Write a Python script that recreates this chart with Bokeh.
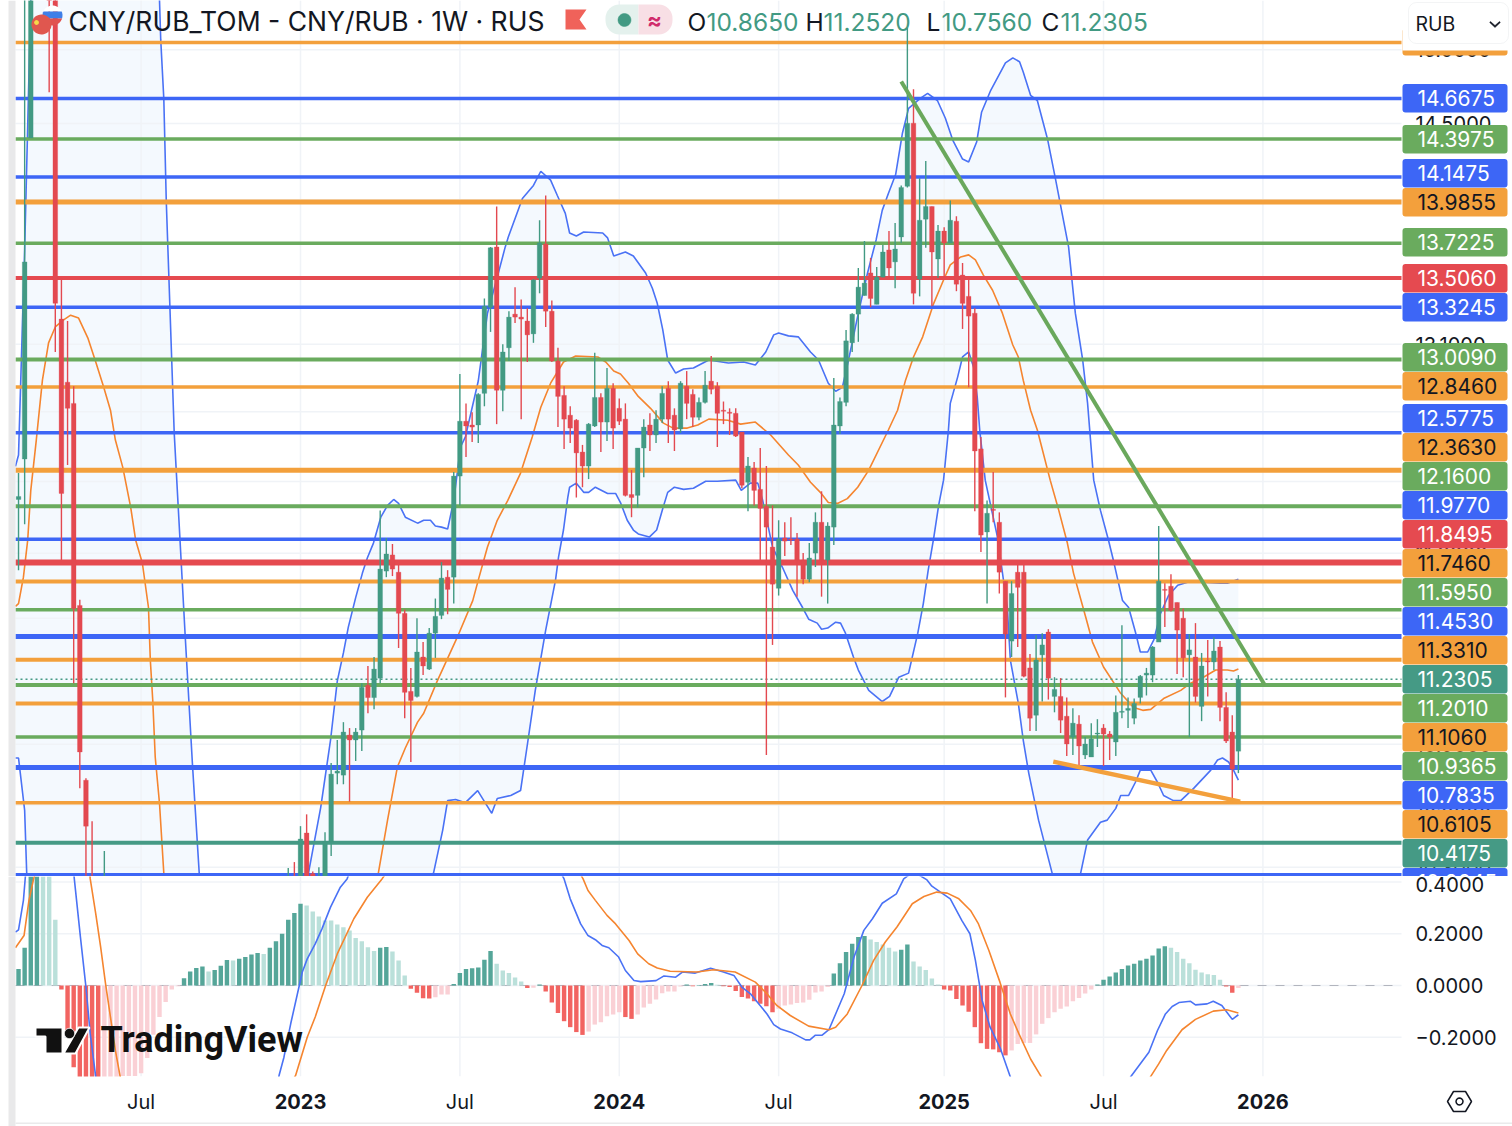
import math
import numpy as np
from bokeh.plotting import figure
from bokeh.layouts import column
from bokeh.models import (Range1d, FixedTicker, NumeralTickFormatter, BoxAnnotation, Label,
                          PolyAnnotation)
from bokeh.embed import file_html
from bokeh.resources import INLINE

# ---------- data: weeks are counted from the first week of 2023 ----------
W = [-46,-45,-44,-41,-40,-39,-38,-37,-36,-35,-34,-32,-2,-1] + list(range(0,154))
O = [12.198,12.427,14.404,19.0,17.0,13.253,12.874,12.749,11.618,10.721,10.0,9.7,9.9,10.15,
 9.95,10.464,10.27,10.2,10.23,10.421,10.756,10.746,10.946,10.921,10.971,11.199,11.136,11.236,11.803,11.891,
 11.797,11.576,11.168,11.142,11.346,11.283,11.471,11.565,11.770,11.770,12.330,12.645,12.623,12.623,12.808,13.325,
 13.700,12.826,13.079,13.283,13.265,13.241,13.163,13.505,13.719,13.301,13.000,12.796,12.680,12.651,12.467,12.387,
 12.617,12.784,12.640,12.838,12.720,12.657,12.226,12.221,12.490,12.623,12.565,12.657,12.838,12.680,12.600,12.850,
 12.802,12.668,12.755,12.880,12.850,12.709,12.697,12.691,12.582,12.295,12.376,12.255,12.159,11.934,11.710,11.984,
 11.978,11.978,11.863,11.759,11.901,12.071,11.863,12.044,12.617,12.755,13.109,13.283,13.397,13.537,13.343,13.511,
 13.681,13.606,13.763,14.087,14.502,13.499,13.876,13.957,13.624,13.800,13.725,13.863,13.524,13.392,13.289,12.485,
 12.017,12.143,12.071,11.748,11.429,11.797,11.797,11.289,11.046,11.357,11.477,11.142,11.142,11.041,10.936,11.001,
 10.846,10.836,10.951,10.981,10.951,10.911,11.061,11.071,11.031,11.137,11.252,11.252,11.424,11.704,11.721,11.634,
 11.550,11.357,11.346,11.091,11.325,11.320,11.398,11.086,10.961,10.865]
H = [12.347,16.0,17.5,19.5,17.5,13.505,13.241,12.850,11.649,10.731,10.521,10.378,10.297,10.325,
 10.497,10.554,10.28,10.301,10.468,10.806,10.921,11.011,10.981,10.981,11.210,11.299,11.346,12.137,11.984,11.951,
 11.836,11.597,11.289,11.550,11.424,11.498,11.655,11.852,11.808,12.353,12.922,12.749,12.697,12.808,13.379,13.700,
 13.957,13.101,13.301,13.449,13.373,13.319,13.499,13.869,14.028,13.367,13.079,12.850,12.732,12.657,12.508,12.634,
 13.049,12.808,12.958,12.868,12.778,12.749,12.364,12.490,12.657,12.691,12.709,12.850,12.880,12.720,12.880,12.940,
 12.832,12.784,12.940,13.030,12.874,12.760,12.720,12.720,12.582,12.439,12.410,12.490,12.387,12.165,12.082,12.071,
 12.099,12.011,11.901,11.956,12.126,12.244,12.071,12.898,12.784,13.187,13.289,13.568,13.738,13.631,13.574,13.712,
 13.800,13.851,14.093,15.151,14.730,14.140,14.252,13.957,13.838,13.825,13.995,13.895,13.599,13.505,13.319,12.554,
 12.192,12.353,12.126,11.748,11.748,11.836,11.836,11.362,11.461,11.471,11.492,11.241,11.236,11.137,11.081,11.046,
 10.936,11.006,11.026,11.001,10.966,11.147,11.513,11.137,11.131,11.252,11.289,11.403,12.050,11.737,11.786,11.634,
 11.602,11.466,11.524,11.367,11.435,11.450,11.430,11.163,11.046,11.252]
L = [11.808,12.060,14.404,14.709,13.054,11.863,12.393,11.210,10.681,9.9,9.4,9.6,9.8,9.9,
 9.9,9.95,10.15,10.15,10.2,10.354,10.701,10.701,10.616,10.816,10.866,11.056,11.076,11.210,11.770,11.776,
 11.393,11.031,10.811,11.136,11.252,11.278,11.341,11.545,11.571,11.628,12.165,12.439,12.525,12.519,12.732,13.175,
 12.628,12.703,13.000,13.229,12.657,12.994,13.109,13.411,13.205,12.994,12.611,12.485,12.519,12.209,12.267,12.313,
 12.611,12.467,12.531,12.485,12.623,12.215,12.099,12.154,12.324,12.473,12.519,12.634,12.519,12.473,12.577,12.657,
 12.611,12.651,12.749,12.802,12.496,12.628,12.565,12.554,12.261,12.132,12.165,11.863,10.846,11.409,11.671,11.885,
 11.945,11.665,11.732,11.743,11.825,11.665,11.628,11.945,12.571,12.732,13.054,13.115,13.397,13.325,13.343,13.511,
 13.511,13.442,13.725,14.080,13.343,13.392,13.694,13.331,13.505,13.511,13.725,13.424,13.193,12.844,12.132,11.907,
 11.628,12.071,11.682,11.137,11.346,11.398,11.241,10.966,10.966,11.116,11.126,11.061,10.956,10.841,10.846,10.781,
 10.826,10.836,10.886,10.791,10.821,10.841,11.031,10.981,11.001,11.106,11.147,11.215,11.424,11.503,11.586,11.257,
 11.241,10.936,11.111,11.016,11.142,11.278,11.016,10.906,10.621,10.756]
C = [12.215,13.606,17.0,16.0,13.349,12.232,12.720,11.602,10.861,10.497,9.6,10.0,10.1,9.95,
 10.435,10.0,10.2,10.25,10.421,10.751,10.766,10.961,10.921,10.961,11.189,11.136,11.283,11.814,11.896,11.814,
 11.576,11.163,11.121,11.372,11.299,11.471,11.560,11.765,11.704,12.330,12.645,12.617,12.611,12.802,13.331,13.694,
 12.826,13.054,13.265,13.265,13.253,13.157,13.493,13.725,13.301,13.000,12.790,12.657,12.605,12.462,12.387,12.628,
 12.784,12.640,12.838,12.605,12.645,12.221,12.209,12.490,12.611,12.565,12.657,12.808,12.657,12.594,12.868,12.749,
 12.668,12.755,12.856,12.832,12.691,12.703,12.691,12.559,12.278,12.387,12.249,12.148,12.044,11.732,11.978,11.967,
 11.973,11.863,11.759,11.874,12.071,11.863,12.050,12.623,12.760,13.121,13.283,13.449,13.474,13.379,13.511,13.668,
 13.568,13.687,14.080,14.502,13.411,13.869,13.957,13.668,13.800,13.725,13.869,13.467,13.349,13.271,12.473,12.000,
 12.121,12.137,11.797,11.466,11.682,11.715,11.246,11.031,11.330,11.409,11.236,11.178,11.021,10.901,11.006,10.891,
 10.901,10.926,10.956,10.951,10.936,11.061,11.066,11.081,11.106,11.246,11.262,11.398,11.748,11.699,11.592,11.487,
 11.341,11.383,11.142,11.299,11.320,11.377,11.086,10.916,10.776,11.2305]

UPPER_W = [-46.5,-46,-45,-44,-43,-24,-23,-22.8,-22.3,-21.9,-20.6,-18.8,-17.6,-16.5,-16,-10,0,1.3,3.3,4.9,6,7,7.8,9,10.1,10.9,11.9,13.1,14.2,15.2,16,17.1,19.1,20.1,21.2,22,23,24,25,26.1,26.9,29,30.5,32.1,33.4,33.9,36.2,38,39.2,40.8,41.9,43.2,43.9,45,46.2,49.3,50.1,51.1,53,54.3,56.3,57.4,58.2,59.1,59.9,61.2,62.5,64.1,66.6,69.8,72.3,74.2,75.9,77.2,78,79.6,81.2,83.2,84.5,86.1,87.3,88.4,89.4,91,92.5,93.9,94.9,95.9,97.1,98.2,99.2,101.1,102.3,103.9,105.2,106.4,108,109,110.3,111.1,112.6,115,116.2,117.3,117.9,119.1,120.2,121.9,123.2,125.3,126.4,127.6,128.4,129.4,130.5,131.8,132.6,134.1,135.1,136.2,137,138.2,139.2,140.3,141.6,143.1,144.7,147.3,150.1,151.2,153]
UPPER = [12.385,12.450,13.681,15.344,16.44,15.77,15.344,15.068,14.668,13.995,12.576,11.451,10.786,10.263,10.097,9.8,9.7,10.273,10.588,10.921,11.221,11.367,11.503,11.660,11.792,11.874,11.956,12.099,12.165,12.198,12.176,12.099,12.066,12.082,12.082,12.050,12.044,12.033,12.192,12.496,12.554,12.881,13.289,13.511,13.700,13.763,14.008,14.093,14.185,14.127,14.028,13.913,13.788,13.769,13.794,13.788,13.757,13.643,13.668,13.643,13.537,13.442,13.349,13.187,13.006,12.928,12.952,12.958,13.006,12.988,12.994,12.976,13.054,13.157,13.169,13.151,13.145,13.054,13.006,12.868,12.820,12.844,13.006,13.289,13.537,13.744,13.932,14.041,14.166,14.437,14.601,14.668,14.702,14.654,14.535,14.390,14.265,14.246,14.377,14.575,14.723,14.910,14.944,14.917,14.847,14.689,14.654,14.390,14.127,13.700,13.289,13.006,12.749,12.307,12.137,11.973,11.863,11.644,11.607,11.477,11.372,11.372,11.435,11.576,11.671,11.726,11.743,11.743,11.737,11.737,11.759]
LOWER_W = [-46.5,-46,-45,-44,0,10,20,21.7,23.2,24,25.3,26.9,28.9,31.2,32.1,34.3,35.9,37,38.3,40,41.6,42.1,42.9,43.6,43.9,45,46.2,47,48.1,50.1,51.4,52.2,53.3,54.3,55.1,56.9,58.1,59.1,59.9,61,62.5,64.1,66.1,68,71,71.9,73.4,74.6,75.4,77,78.6,80.3,81.9,82.9,84.3,85,86,87.3,88.1,88.9,90.2,91,92.7,94.9,96.1,97.6,99.2,100.7,101.6,102.4,103.3,104.1,104.9,105.7,106,107.2,108,109,109.8,110.4,110.8,111.7,113.7,115.3,115.8,117.1,117.9,118.8,120.4,122.7,124,126.4,127.2,128.4,130.5,131.6,133,133.8,135.1,136.2,137,138.7,139.8,140.8,142.4,143.6,145.7,148.5,149.6,150.4,151.4,152.2,153]
LOWER = [10.831,10.831,10.573,9.7,9.3,9.6,10.1,10.273,10.478,10.621,10.626,10.611,10.670,10.559,10.631,10.646,10.670,10.896,11.173,11.487,11.754,11.880,12.028,12.209,12.267,12.290,12.238,12.238,12.267,12.232,12.232,12.181,12.082,12.028,12.006,11.989,12.028,12.148,12.238,12.267,12.255,12.261,12.301,12.301,12.307,12.249,12.290,12.290,12.192,11.934,11.825,11.699,11.607,11.545,11.524,11.492,11.498,11.529,11.524,11.471,11.346,11.278,11.173,11.116,11.142,11.241,11.262,11.471,11.628,11.808,11.984,12.165,12.307,12.594,12.749,12.904,13.024,13.054,12.964,12.784,12.594,12.307,11.989,11.607,11.330,11.106,10.921,10.756,10.526,10.263,10.144,10.144,10.263,10.430,10.516,10.526,10.583,10.646,10.646,10.711,10.771,10.771,10.711,10.646,10.621,10.621,10.681,10.771,10.821,10.831,10.811,10.771,10.721]
BASIS_W = [-46.5,-46,-45.2,-44.5,-44,-43.1,-42.1,-41.1,-40,-38.7,-37.5,-36.2,-34.7,-33.4,-32.1,-31,-30.2,-29,-27.7,-26.9,-25.8,-24.8,-24.5,-24.1,-23.7,-23,-22.3,-21.2,-10,0,11.4,12.7,14.2,15.8,17.1,19.1,20.1,22.3,25.6,28.1,29,30.5,32.1,33.8,35.9,37.8,39.2,40.8,42.9,44.9,48.5,49.8,51.1,52.2,53.5,55.1,57.1,59.2,60.8,63.1,64.8,66.6,69.7,71.8,74.2,76.7,79.6,81.2,83.2,84.8,86.1,87.6,89.2,90.9,92.7,95.9,97.4,98.7,100,101.5,103.3,104.9,106,107.7,109,110.1,111.4,112.9,114.5,116.2,117.1,117.9,119.1,120.2,122.3,123.7,125.1,126.1,128.1,129.2,131,133.8,135.9,137.4,138.7,140.8,143.6,145.2,147.3,149.3,151.2,152.2,153]
BASIS = [11.613,11.628,11.770,11.973,12.249,12.536,12.886,13.109,13.205,13.247,13.277,13.259,13.139,12.994,12.844,12.709,12.536,12.381,12.154,11.973,11.847,11.607,11.330,11.121,10.836,10.607,10.273,9.9,9.4,9.4,9.9,10.273,10.526,10.786,10.881,11.011,11.056,11.221,11.451,11.644,11.754,11.934,12.082,12.192,12.347,12.554,12.726,12.868,12.994,13.030,13.024,12.994,12.940,12.922,12.868,12.790,12.720,12.634,12.605,12.605,12.623,12.657,12.651,12.628,12.640,12.565,12.450,12.393,12.295,12.238,12.181,12.176,12.203,12.267,12.364,12.594,12.709,12.886,13.024,13.145,13.349,13.493,13.587,13.637,13.650,13.619,13.524,13.430,13.289,13.096,13.024,12.886,12.709,12.594,12.307,12.137,11.956,11.792,11.555,11.424,11.294,11.158,11.086,11.071,11.076,11.131,11.173,11.210,11.241,11.278,11.278,11.273,11.283]

HIST_START = -46
HIST = [.064,.146,.55,.75,.7,.5,.254,-.015,-.19,-.316,
 -.40,-.44,-.48,-.52,-.38,-.36,-.36,-.35,-.35,-.35,
 -.339,-.28,-.19,-.122,-.064,-.015,-.003,.028,.054,.068,
 .073,.054,.06,.076,.099,.097,.103,.11,.12,.126,
 .122,.146,.171,.2,.254,.28,.316,.309,.286,.267,
 .251,.251,.236,.225,.213,.184,.171,.148,.133,.146,
 .149,.131,.097,.039,-.013,-.028,-.049,-.05,-.045,-.035,
 -.035,.006,.048,.064,.067,.07,.1,.133,.084,.058,
 .048,.031,.015,-.01,-.009,.004,-.023,-.066,-.106,-.138,
 -.161,-.18,-.191,-.178,-.151,-.142,-.119,-.112,-.103,-.122,
 -.129,-.112,-.085,-.071,-.054,-.03,-.023,-.023,-.004,.004,
 -.003,.002,.006,.01,.003,-.003,-.006,-.021,-.044,-.05,
 -.061,-.071,-.08,-.103,-.09,-.077,-.073,-.068,-.066,-.055,
 -.027,-.023,-.006,.046,.086,.129,.161,.187,.191,.178,
 .168,.158,.146,.131,.138,.158,.093,.073,.06,.027,
 .004,-.015,-.019,-.052,-.077,-.101,-.161,-.223,-.245,-.247,
 -.258,-.27,-.251,-.226,-.222,-.222,-.189,-.148,-.126,-.103,
 -.09,-.081,-.061,-.048,-.031,-.015,.004,.022,.035,.05,
 .064,.077,.084,.097,.103,.116,.143,.152,.146,.129,
 .103,.086,.061,.05,.043,.041,.022,-.004,-.028,-.01]
MACD_W = [-46.5,-46,-45.2,-44.9,-44,-38,-36.9,-35.9,-35,-34.3,-33.4,-32,-20,-5,-3.5,-2.7,-1.6,-.5,.3,1.1,2.4,3.5,4.9,6.5,7.6,9,30,41,43,44,45.7,46.9,48.1,49.2,50.3,51.9,53,54.4,55.5,58,59.3,61.2,62.3,64.4,66.9,69,70.7,72,73.4,76.1,77.2,78.3,80.2,82.4,83.1,84,85.1,86.2,87.3,88.7,90.3,91.9,93.3,94.9,97.2,98.4,100,102.2,103,104.4,106,107.9,109.2,110.1,111.2,112.5,114.2,115.8,118,130,135.4,138.4,139.8,141.1,142.2,143.3,145.2,146,147.9,148.9,150.3,152,153]
MACD = [.206,.215,.329,.416,.7,.7,.412,.187,-.006,-.187,-.354,-.6,-.8,-.55,-.348,-.277,-.148,-.032,.052,.103,.161,.219,.303,.38,.412,.5,.7,.5,.412,.335,.238,.193,.177,.155,.146,.11,.058,.019,.015,.019,.037,.032,.052,.048,.067,.052,.039,-.006,-.032,-.11,-.151,-.168,-.183,-.21,-.21,-.192,-.192,-.171,-.11,-.032,.11,.213,.258,.318,.354,.412,.44,.408,.384,.361,.335,.251,.2,.097,-.058,-.161,-.245,-.354,-.6,-.7,-.354,-.258,-.174,-.11,-.081,-.066,-.061,-.075,-.071,-.061,-.077,-.131,-.113]
SIGNAL_W = [-46.5,-45.1,-44.3,-43.5,-40,-35,-34.3,-33.4,-32.6,-31.8,-31,-30.2,-29.4,-25,-10,-.8,1.1,2.4,4.1,6,8.7,10.9,13.3,16,30,44,46.1,46.9,48.1,50,51.4,53.6,55,56.8,58.2,60.3,64.7,67.4,70.9,74.2,76.1,77.7,79.9,82.9,86.2,87.3,89.2,91.6,93.5,95.4,97.3,99.8,101.7,103.8,105.5,107.4,109.3,110.6,112.3,114.1,115.8,117.2,119.1,120.8,125,135,138.7,140,141.3,143.8,146,148.9,151.1,153]
SIGNAL = [.146,.193,.329,.416,.7,.6,.412,.277,.148,.006,-.122,-.251,-.354,-.6,-.7,-.348,-.2,-.122,0,.122,.258,.341,.412,.5,.65,.5,.412,.367,.329,.271,.238,.174,.122,.084,.068,.055,.052,.061,.052,.013,-.032,-.077,-.116,-.157,-.171,-.161,-.11,0,.097,.168,.226,.316,.344,.361,.357,.335,.29,.238,.135,.013,-.11,-.187,-.284,-.351,-.55,-.5,-.351,-.303,-.251,-.171,-.131,-.099,-.094,-.106]

LEVELS = [15.05,14.6675,14.3975,14.1475,13.9855,13.7225,13.506,13.3245,13.009,12.846,12.5775,12.363,12.16,11.977,11.8495,11.746,11.595,11.453,11.331,11.201,11.106,10.9365,10.7835,10.6105,10.4175,10.2645]
LEVEL_KIND = ["o","b","g","b","o","g","r","b","g","o","b","o","g","b","r","o","g","b","o","g","o","g","b","o","t","b"]
LEVEL_W = [3.5,3.5,3.5,3.5,5,3.5,4,3.5,4,3.5,3.5,5,4,3.5,6,4,3.5,5,4,4,4,3.5,5,3.5,4,3.5]
TICK_PRICES = [15,14.5,14,13.5,13.1,12.7,12.3,11.9,11.55,11.2,10.9,10.6,10.3]
TICK_MACD = [0.4,0.2,0.0,-0.2]
TICK_WEEKS = [-26,0,26,52,78,105,131,157]
TICK_LABELS = ["Jul","2023","Jul","2024","Jul","2025","Jul","2026"]
PRICE_LABELS = ["14.6675","14.3975","14.1475","13.9855","13.7225","13.5060","13.3245","13.0090","12.8460","12.5775","12.3630","12.1600","11.9770","11.8495","11.7460","11.5950","11.4530","11.3310","11.2305","11.2010","11.1060","10.9365","10.7835","10.6105","10.4175","10.2645"]
PRICE_LABEL_KIND = ["b","g","b","o","g","r","b","g","o","b","o","g","b","r","o","g","b","o","t","g","o","g","b","o","t","b"]
LAST_O, LAST_H, LAST_L, LAST_C = "10.8650","11.2520","10.7560","11.2305"

# ---------- layout geometry (page pixels of the 1512x1126 picture) ----------
PX_WEEK0, PX_PER_WEEK = 300.0, 6.13
LEFT, RIGHT, SPLIT, BOTTOM, PAGE_W, PAGE_B = 15, 1402, 876, 1076, 1512, 1126
LABEL_CY = [98,139,173,202,242,278,307,357,386,418,447,476,505,534,563,592,621,650,679,708,737,766,795,824,853,882]

def week_at(px): return (px - PX_WEEK0) / PX_PER_WEEK
def price_at(py): return 14.6675 * math.exp((98 - py) / 2175.0)
def val_at(py): return (985 - py) / 258.75

COL = {"b": "#3d66f6", "g": "#6aab5e", "o": "#f3a03c", "r": "#e54a50", "t": "#459a85"}
GREEN, RED = "#429a83", "#e34950"
BAND_BLUE, BASIS_ORANGE = "#4a72f5", "#f5852f"
GRID = "#f0f3f7"
INK = "#131722"
F = "Inter"

xr = Range1d(week_at(0), week_at(PAGE_W))
x0, x1 = week_at(LEFT), week_at(RIGHT - 1)

def style_value_axis(a, ticks):
    a.fixed_location = week_at(RIGHT)
    a.ticker = FixedTicker(ticks=ticks)
    a.formatter = NumeralTickFormatter(format="0.0000")
    a.axis_line_color = None
    a.major_tick_line_color = None
    a.minor_tick_line_color = None
    a.major_label_text_font = F
    a.major_label_text_font_size = "20px"
    a.major_label_text_color = INK
    a.major_label_standoff = 7

# ---------- price pane ----------
p = figure(width=PAGE_W, height=SPLIT, x_range=xr, y_range=Range1d(price_at(SPLIT), price_at(0)),
           y_axis_type="log", y_axis_location="right", x_axis_location=None,
           output_backend="svg", toolbar_location=None,
           min_border_left=0, min_border_right=0, min_border_top=0, min_border_bottom=0)
p.outline_line_color = None
p.grid.visible = False
style_value_axis(p.yaxis[0], TICK_PRICES)

def grid_lines(fig, ys, ytop, ybot):
    fig.segment(TICK_WEEKS, [ytop] * len(TICK_WEEKS), TICK_WEEKS, [ybot] * len(TICK_WEEKS), line_color=GRID, line_width=1.5)
    fig.segment([x0] * len(ys), ys, [x1] * len(ys), ys, line_color=GRID, line_width=1.5)

band_x = list(UPPER_W) + list(LOWER_W)[::-1]
band_y = list(UPPER) + list(LOWER)[::-1]
p.patch(band_x, band_y, fill_color="#f4f9fe", line_color=None)
grid_lines(p, TICK_PRICES, price_at(0), price_at(SPLIT))
p.line(UPPER_W, UPPER, line_color=BAND_BLUE, line_width=1.6)
p.line(LOWER_W, LOWER, line_color=BAND_BLUE, line_width=1.6)
p.line(BASIS_W, BASIS, line_color=BASIS_ORANGE, line_width=1.6)

p.segment([x0] * len(LEVELS), LEVELS, [x1] * len(LEVELS), LEVELS,
          line_color=[COL[k] for k in LEVEL_KIND], line_width=LEVEL_W)
p.segment([x0], [float(LAST_C)], [x1], [float(LAST_C)], line_color=COL["t"], line_width=1.6, line_dash="2 3")

cc = [GREEN if c >= o else RED for o, c in zip(O, C)]
p.segment(W, H, W, L, line_color=cc, line_width=1.4)
p.vbar(x=W, top=[max(a, b) for a, b in zip(O, C)], bottom=[min(a, b) for a, b in zip(O, C)],
       width=0.76, fill_color=cc, line_color=cc, line_width=0.3)

# trend lines
p.line([98.0, 157.3], [14.783, 11.201], line_color="#6aa85c", line_width=4)
p.line([122.8, 153.3], [10.813, 10.616], line_color="#f3a03c", line_width=4.5)

def ann_box(fig, l, r, t, b, conv, color, line=None, radius=0):
    fig.add_layout(BoxAnnotation(left=week_at(l), right=week_at(r), top=conv(t), bottom=conv(b),
                                 fill_color=color, fill_alpha=1, line_color=line, border_radius=radius,
                                 level="annotation"))

def ann_text(fig, px, py, txt, conv, size, color=INK, style="normal", align="left", baseline="middle", font=F):
    fig.add_layout(Label(x=week_at(px), y=conv(py), text=txt, text_font=font, text_font_size=size,
                         text_color=color, text_font_style=style, text_align=align, text_baseline=baseline))

# strip at the far left
ann_box(p, 8, LEFT, 0, SPLIT, price_at, "#e9e9ea")

# price labels on the scale
ann_box(p, 1402, 1507, 28, 55, price_at, COL["o"], radius=3)
ann_box(p, 1402, 1512, 0, 50, price_at, "#ffffff")
ann_box(p, 1408, 1508, 2, 43, price_at, "#ffffff", line="#d8d9de", radius=8)
ann_text(p, 1415, 23, "RUB", price_at, "19.5px")
p.add_layout(PolyAnnotation(xs=[week_at(v) for v in (1490, 1494.5, 1499, 1499.8, 1494.5, 1489.2)],
                            ys=[price_at(v) for v in (21, 25, 21, 22, 27, 22)],
                            fill_color=INK, fill_alpha=1, line_color=INK, line_alpha=1, line_width=0.5))
last = list(zip(PRICE_LABELS, PRICE_LABEL_KIND, LABEL_CY))[-1]
ann_box(p, 1402, 1507, last[2] - 14.5, last[2] + 14.5, price_at, COL[last[1]], radius=3)
ann_text(p, 1417, last[2] - 1, last[0], price_at, "21px", "#ffffff")
for txt, kind, cy in list(zip(PRICE_LABELS, PRICE_LABEL_KIND, LABEL_CY))[:-1]:
    ann_box(p, 1402, 1507, cy - 14.5, cy + 14, price_at, COL[kind], radius=3)
    ann_text(p, 1417, cy - 1, txt, price_at, "21px", INK if kind == "o" else "#ffffff")

# legend row
theta = np.linspace(0, 2 * np.pi, 48)
def circle_poly(cx, cy, r, y_from=-1e9, y_to=1e9):
    xs = cx + r * np.cos(theta)
    ys = np.clip(cy + r * np.sin(theta), y_from, y_to)
    return [week_at(v) for v in xs], [price_at(v) for v in ys]
for yf, yt, colr in [(5, 11, "#ffffff"), (11, 18, "#3f7fe8"), (18, 25, "#e0524f")]:
    xs, ys = circle_poly(52, 15, 10, yf, yt)
    p.patch(xs, ys, fill_color=colr, line_color=None)
xs, ys = circle_poly(41, 24, 10)
p.patch(xs, ys, fill_color="#e0574f", line_color=None)
xs, ys = circle_poly(36, 22, 2.4)
p.patch(xs, ys, fill_color="#f6d94a", line_color=None)
ann_text(p, 68, 20, "CNY/RUB_TOM - CNY/RUB · 1W · RUS", price_at, "26.5px")
p.patch([week_at(v) for v in (565, 586, 579, 586, 565)], [price_at(v) for v in (9, 9, 19, 29, 29)],
        fill_color="#f0625a", line_color=None)
ann_box(p, 605, 638, 4, 34, price_at, "#e4f1ed", radius=(14, 0, 0, 14))
ann_box(p, 638, 672, 4, 34, price_at, "#f8dfe5", radius=(0, 14, 14, 0))
xs, ys = circle_poly(624, 19.5, 6.5)
p.add_layout(PolyAnnotation(xs=xs, ys=ys, fill_color=GREEN, fill_alpha=1, line_color=GREEN, line_alpha=1, line_width=0.5))
ann_text(p, 654, 19, "≈", price_at, "22px", "#d02b6b", "bold", "center")
for lab, xl, val, xv in [("O", 687, LAST_O, 706), ("H", 805, LAST_H, 823), ("L", 926, LAST_L, 941), ("C", 1041, LAST_C, 1060)]:
    ann_text(p, xl, 21, lab, price_at, "24.5px")
    ann_text(p, xv, 21, val, price_at, "24.5px", GREEN)

# ---------- MACD pane ----------
m = figure(width=PAGE_W, height=PAGE_B - SPLIT, x_range=xr, y_range=Range1d(val_at(PAGE_B), val_at(SPLIT)),
           y_axis_location="right", output_backend="svg", toolbar_location=None,
           min_border_left=0, min_border_right=0, min_border_top=0, min_border_bottom=0)
m.outline_line_color = None
m.grid.visible = False
ay = m.yaxis[0]
style_value_axis(ay, TICK_MACD)
ay.major_label_overrides = {-0.2: "−0.2000"}
ax = m.xaxis[0]
ax.fixed_location = val_at(BOTTOM)
ax.ticker = FixedTicker(ticks=TICK_WEEKS)
ax.major_label_overrides = {w: (t if t == "Jul" else " ") for w, t in zip(TICK_WEEKS, TICK_LABELS)}
ax.axis_line_color = None
ax.major_tick_line_color = None
ax.minor_tick_line_color = None
ax.major_label_text_font = F
ax.major_label_text_font_size = "20px"
ax.major_label_text_color = INK
ax.major_label_standoff = 7

grid_lines(m, TICK_MACD, val_at(SPLIT), val_at(BOTTOM))
m.segment([x0], [0], [x1], [0], line_color="#b2b5be", line_width=1.2, line_dash="9 9")
hw = list(range(HIST_START, HIST_START + len(HIST)))
hc = []
for i, v in enumerate(HIST):
    prev = HIST[i - 1] if i else 0
    if v >= 0:
        hc.append("#55a699" if v > prev else "#bae0da")
    else:
        hc.append("#f26461" if v < prev else "#fad0d5")
m.vbar(x=hw, top=[max(v, 0) for v in HIST], bottom=[min(v, 0) for v in HIST], width=0.72, fill_color=hc, line_color=None)
m.line(MACD_W, MACD, line_color=BAND_BLUE, line_width=1.6)
m.line(SIGNAL_W, SIGNAL, line_color=BASIS_ORANGE, line_width=1.6)

# white pane below the MACD area: it hides what runs past the pane's lower edge
cover = [(LEFT, BOTTOM), (PAGE_W, BOTTOM), (PAGE_W, PAGE_B), (LEFT, PAGE_B)]
m.patch([week_at(a) for a, _ in cover], [val_at(b) for _, b in cover], fill_color="#ffffff", line_color=None)

for w, t in zip(TICK_WEEKS, TICK_LABELS):
    if t != "Jul":
        m.add_layout(Label(x=w, y=val_at(1101), text=t, text_font=F, text_font_size="20px", text_font_style="bold",
                           text_color=INK, text_align="center", text_baseline="middle"))

# logo
LOGO_INK = "#111111"
for pts in [[(35, 1027), (62, 1027), (62, 1053), (45, 1053), (45, 1036), (35, 1036)],
            [(78, 1027), (89, 1027), (75, 1053), (63, 1053)]]:
    m.patch([week_at(a) for a, _ in pts], [val_at(b) for _, b in pts], fill_color=LOGO_INK,
            line_color="#ffffff", line_width=2)
dx = 69 + 5.2 * np.cos(theta)
dy = 1033 + 5.2 * np.sin(theta)
m.patch([week_at(v) for v in dx], [val_at(v) for v in dy], fill_color=LOGO_INK, line_color="#ffffff", line_width=1)
ann_text(m, 100, 1039, "TradingView", val_at, "36px", LOGO_INK, "bold", "left", "alphabetic", "Roboto")

# strip and scale button in the lower pane
ann_box(m, 8, LEFT, SPLIT, PAGE_B, val_at, "#e9e9ea")
ann_box(m, LEFT, PAGE_W, 1122, 1123.5, val_at, "#eaeaeb")
hx = 1459 + np.array([-12, -6, 6, 12, 6, -6])
hy = 1101 + np.array([0, -10, -10, 0, 10, 10])
m.add_layout(PolyAnnotation(xs=[week_at(v) for v in hx], ys=[val_at(v) for v in hy],
                            fill_alpha=0, line_color=INK, line_alpha=1, line_width=1.5))
ox = 1459 + 3.5 * np.cos(theta[::4])
oy = 1101 + 3.5 * np.sin(theta[::4])
m.add_layout(PolyAnnotation(xs=[week_at(v) for v in ox], ys=[val_at(v) for v in oy],
                            fill_alpha=0, line_color=INK, line_alpha=1, line_width=1.5))

page = column(p, m, spacing=0)
open("out.html", "w").write(file_html(page, INLINE))
